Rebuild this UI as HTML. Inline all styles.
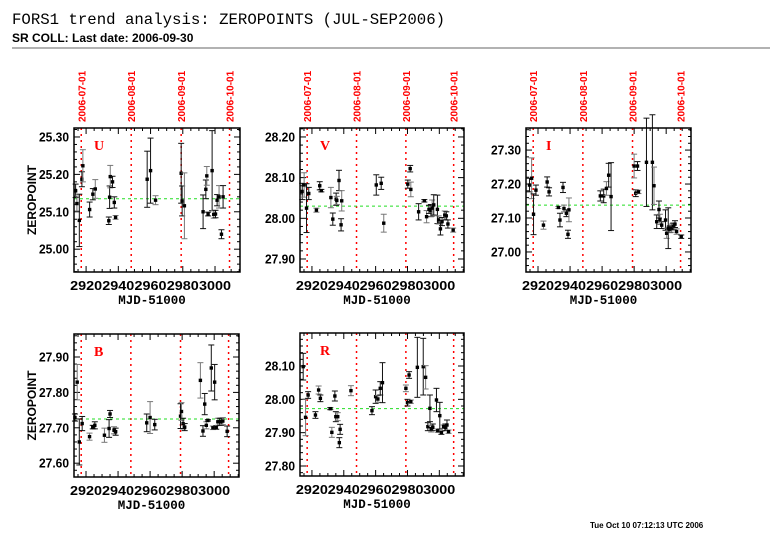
<!DOCTYPE html>
<html><head><meta charset="utf-8">
<style>
html,body{margin:0;padding:0;background:#fff;width:782px;height:542px;overflow:hidden}
svg{display:block;font-family:"Liberation Sans",Arial,sans-serif}
</style></head>
<body>
<svg id="chart" width="782" height="542" viewBox="0 0 782 542" xmlns="http://www.w3.org/2000/svg">
<text x="12" y="24" font-family="Liberation Mono, monospace" font-size="15.7" fill="#000">FORS1 trend analysis: ZEROPOINTS (JUL-SEP2006)</text>
<text x="12" y="42" font-size="12" font-weight="bold" fill="#000">SR COLL: Last date: 2006-09-30</text>
<line x1="12" y1="48" x2="770" y2="48" stroke="#666" stroke-width="1"/>
<text x="590" y="528" font-size="8" font-weight="bold" fill="#000">Tue Oct 10 07:12:13 UTC 2006</text>
<g id="panels"></g>
</svg>
<script>
// ---- data ----
const dateLabels = ["2006-07-01","2006-08-01","2006-09-01","2006-10-01"];
const dateMjd = [2917, 2948, 2979, 3009];
const xTickLabels = [2920, 2940, 2960, 2980, 3000];

const uX = [2913.5,2914.3,2915.8,2917.4,2918.0,2922.2,2924.2,2925.7,2934.1,2934.6,2935.0,2936.4,2937.5,2938.3,2957.9,2960.0,2963.1,2979.0,2979.6,2981.0,2992.6,2994.3,2994.9,2995.7,2998.2,2999.2,3000.3,3001.3,3002.5,3004.0,3005.0];
const uY = [25.156,25.122,25.077,25.187,25.223,25.106,25.147,25.161,25.076,25.139,25.194,25.180,25.125,25.085,25.187,25.210,25.131,25.203,25.129,25.116,25.100,25.160,25.196,25.094,25.210,25.093,25.094,25.131,25.140,25.040,25.140];
const uE = [0.018,0.02,0.07,0.02,0.043,0.02,0.015,0.025,0.01,0.03,0.03,0.015,0.015,0.005,0.075,0.087,0.012,0.08,0.04,0.088,0.045,0.025,0.025,0.005,0.107,0.01,0.01,0.015,0.03,0.012,0.03];

const vX = [2913.9,2915.1,2916.6,2918.0,2922.8,2924.9,2925.9,2931.9,2933.1,2935.2,2935.6,2937.0,2938.3,2938.7,2960.4,2963.5,2965.1,2980.2,2981.7,2982.1,2987.0,2990.6,2992.0,2993.5,2994.7,2995.5,2996.5,2998.8,2999.6,3000.7,3001.7,3003.4,3004.4,3005.4,3008.7];
const vY = [28.066,28.082,28.025,28.061,28.020,28.080,28.068,28.051,27.998,28.047,28.044,28.093,27.984,28.043,28.082,28.086,27.988,28.084,28.122,28.071,28.016,28.043,28.004,28.022,28.019,28.025,28.033,28.022,27.996,27.974,27.992,28.008,28.006,27.986,27.971];
const vE = [0.02,0.03,0.06,0.015,0.005,0.01,0.003,0.025,0.015,0.015,0.01,0.025,0.015,0.025,0.025,0.015,0.022,0.01,0.008,0.018,0.02,0.003,0.015,0.01,0.015,0.02,0.025,0.035,0.01,0.015,0.01,0.01,0.01,0.01,0.005];

const iX = [2914.7,2916.0,2917.2,2918.7,2923.4,2925.7,2926.9,2932.7,2933.7,2935.6,2936.2,2937.7,2938.7,2939.3,2958.9,2961.0,2962.7,2964.1,2965.6,2980.0,2981.0,2982.1,2982.7,2987.7,2991.4,2992.4,2994.1,2995.5,2996.1,2997.2,2999.6,3000.3,3001.3,3002.3,3003.4,3004.4,3005.5,3006.5,3009.4];
const iY = [27.197,27.217,27.111,27.182,27.079,27.206,27.177,27.131,27.094,27.190,27.128,27.114,27.052,27.124,27.165,27.165,27.187,27.226,27.163,27.253,27.173,27.253,27.177,27.264,27.264,27.195,27.089,27.125,27.096,27.079,27.094,27.055,27.070,27.067,27.070,27.075,27.082,27.060,27.045];
const iE = [0.02,0.06,0.06,0.015,0.012,0.015,0.012,0.003,0.02,0.015,0.01,0.01,0.012,0.035,0.015,0.02,0.02,0.035,0.1,0.035,0.01,0.013,0.005,0.13,0.14,0.055,0.02,0.025,0.015,0.01,0.03,0.015,0.06,0.01,0.012,0.01,0.01,0.008,0.005];

const bX = [2913.1,2914.5,2915.8,2917.6,2922.2,2924.2,2925.5,2931.5,2934.4,2935.0,2937.5,2938.5,2957.9,2960.0,2962.9,2979.0,2979.6,2980.6,2981.6,2991.4,2993.0,2994.1,2995.1,2996.1,2998.2,2999.2,3000.3,3001.3,3002.3,3003.4,3004.4,3005.4,3008.1];
const bY = [27.729,27.829,27.660,27.712,27.675,27.702,27.707,27.679,27.698,27.739,27.693,27.689,27.714,27.729,27.709,27.733,27.746,27.712,27.702,27.834,27.691,27.767,27.707,27.721,27.869,27.700,27.829,27.701,27.717,27.717,27.717,27.719,27.690];
const bE = [0.01,0.05,0.065,0.02,0.01,0.005,0.01,0.02,0.025,0.01,0.01,0.01,0.025,0.045,0.015,0.035,0.025,0.015,0.01,0.05,0.015,0.03,0.01,0.002,0.065,0.005,0.05,0.005,0.01,0.01,0.01,0.01,0.015];

const rX = [2914.5,2916.0,2917.6,2922.2,2924.2,2925.3,2931.5,2932.5,2934.4,2935.0,2936.2,2937.7,2937.2,2944.5,2957.7,2960.0,2961.4,2962.9,2964.3,2979.0,2980.0,2981.0,2982.1,2986.2,2989.9,2991.4,2992.8,2994.1,2994.9,2995.9,2998.2,2999.0,3000.3,3001.3,3002.7,3003.8,3004.8,3005.8];
const rY = [28.098,27.946,28.013,27.953,28.028,28.003,27.972,27.901,28.010,27.948,27.948,27.910,27.870,28.026,27.966,28.008,28.001,28.033,28.050,28.033,27.990,28.073,27.993,28.096,28.098,28.066,27.918,27.973,27.912,27.916,27.998,27.906,27.951,27.900,27.918,27.916,27.923,27.903];
const rE = [0.04,0.055,0.01,0.01,0.012,0.01,0.003,0.015,0.015,0.015,0.012,0.015,0.015,0.015,0.012,0.02,0.01,0.02,0.06,0.01,0.01,0.01,0.005,0.09,0.085,0.035,0.012,0.04,0.01,0.01,0.035,0.005,0.04,0.005,0.005,0.01,0.015,0.005];

const bandNames = ["U","V","I","B","R"];
const bandMeans = [25.135, 28.03, 27.138, 27.725, 27.972];
const yTickU = [25.00,25.10,25.20,25.30];
const yTickV = [27.90,28.00,28.10,28.20];
const yTickI = [27.00,27.10,27.20,27.30];
const yTickB = [27.60,27.70,27.80,27.90];
const yTickR = [27.80,27.90,28.00,28.10];

// ---- layout (not data) ----
const panels = [
 {name:"u", xs:uX, ys:uY, es:uE, ticks:yTickU, left:74, top:128, w:166, h:144, ymin:24.939, ymax:25.324, dates:true},
 {name:"v", xs:vX, ys:vY, es:vE, ticks:yTickV, left:300, top:128, w:164, h:144, ymin:27.868, ymax:28.222, dates:true},
 {name:"i", xs:iX, ys:iY, es:iE, ticks:yTickI, left:526, top:128, w:165, h:144, ymin:26.941, ymax:27.365, dates:true},
 {name:"b", xs:bX, ys:bY, es:bE, ticks:yTickB, left:74, top:334, w:165, h:143, ymin:27.561, ymax:27.965, dates:false},
 {name:"r", xs:rX, ys:rY, es:rE, ticks:yTickR, left:300, top:333, w:164, h:143, ymin:27.770, ymax:28.199, dates:false}
];
const XMIN = 2912.5, XMAX = 3015.5;
const NS = "http://www.w3.org/2000/svg";
const root = document.getElementById("panels");
function mk(tag, attrs, parent){
  const e = document.createElementNS(NS, tag);
  for (const k in attrs) e.setAttribute(k, attrs[k]);
  (parent||root).appendChild(e); return e;
}
panels.forEach((p, pi) => {
  const g = mk("g", {});
  
  
  const sx = v => p.left + (v - XMIN) / (XMAX - XMIN) * p.w;
  const sy = v => p.top + (p.ymax - v) / (p.ymax - p.ymin) * p.h;
  const R = p.left + p.w, B = p.top + p.h;
  for (let d = 2915; d <= XMAX; d += 5) {
    const x = sx(d), L = (d % 20 === 0) ? 6 : 3;
    mk("line",{x1:x,y1:B,x2:x,y2:B-L,stroke:"#000","stroke-width":1},g);
    mk("line",{x1:x,y1:p.top,x2:x,y2:p.top+L,stroke:"#000","stroke-width":1},g);
  }
  const ys = Math.ceil(p.ymin*50)/50;
  for (let v = ys; v <= p.ymax; v += 0.02) {
    const y = sy(v), maj = Math.abs(v*10 - Math.round(v*10)) < 0.01, L = maj?6:3;
    mk("line",{x1:p.left,y1:y,x2:p.left+L,y2:y,stroke:"#000","stroke-width":1},g);
    mk("line",{x1:R,y1:y,x2:R-L,y2:y,stroke:"#000","stroke-width":1},g);
  }
  dateMjd.forEach((d, di) => {
    const x = sx(d);
    const ln = mk("line",{x1:x,y1:p.top,x2:x,y2:B,stroke:"#f00","stroke-width":1.5,"stroke-dasharray":"2,4"},g);
    
    
    if (p.dates) {
      const t = mk("text",{x:x+4,y:p.top-6,transform:`rotate(-90 ${x+4} ${p.top-6})`,"font-size":10,"font-weight":"bold",fill:"#f00"},g);
      t.textContent = dateLabels[di];
      
      
    }
  });
  const ml = mk("line",{x1:p.left,y1:sy(bandMeans[pi]),x2:R,y2:sy(bandMeans[pi]),stroke:"#2d2","stroke-width":1,"stroke-dasharray":"3,3"},g);
  
  
  p.xs.forEach((xv, k) => {
    const x = sx(xv), y = sy(p.ys[k]), y1 = sy(p.ys[k]+p.es[k]), y2 = sy(p.ys[k]-p.es[k]);
    const col = (k % 3 === 1) ? "#777" : "#111";
    const eg = mk("g",{},g);
    
    
    mk("line",{x1:x,y1:y1,x2:x,y2:y2,stroke:col,"stroke-width":1},eg);
    mk("line",{x1:x-3,y1:y1,x2:x+3,y2:y1,stroke:col,"stroke-width":1},eg);
    mk("line",{x1:x-3,y1:y2,x2:x+3,y2:y2,stroke:col,"stroke-width":1},eg);
    mk("rect",{x:x-1.7,y:y-1.7,width:3.4,height:3.4,fill:"#000"},eg);
  });
  const fr = mk("rect",{x:p.left,y:p.top,width:p.w,height:p.h,fill:"none",stroke:"#000","stroke-width":1.5},g);
  
  
  const bl = mk("text",{x:p.left+20,y:p.top+22,"font-size":14,"font-weight":"bold",fill:"#f00","font-family":"Liberation Serif, serif"},g);
  bl.textContent = bandNames[pi];
  
  
  p.ticks.forEach(v => {
    const t = mk("text",{x:p.left-5,y:sy(v)+4.5,"font-size":12.5,"font-weight":"bold","text-anchor":"end",fill:"#000",textLength:30,lengthAdjust:"spacingAndGlyphs"},g);
    t.textContent = v.toFixed(2);
    
    
  });
  xTickLabels.forEach(v => {
    const t = mk("text",{x:sx(v)-16,y:B+18,"font-size":13,"font-weight":"bold",fill:"#000",textLength:32,lengthAdjust:"spacingAndGlyphs"},g);
    t.textContent = v;
    
    
  });
  const xt = mk("text",{x:p.left+p.w/2-5,y:B+32,"font-size":12.5,"font-weight":"bold","text-anchor":"middle",fill:"#000","font-family":"Liberation Mono, monospace"},g);
  xt.textContent = "MJD-51000";
  
  
  if (p.left < 100) {
    const cy = p.top + p.h/2, cx = 36;
    const yt = mk("text",{x:cx,y:cy,transform:`rotate(-90 ${cx} ${cy})`,"font-size":12,"font-weight":"bold","text-anchor":"middle",fill:"#000"},g);
    yt.textContent = "ZEROPOINT";
    
    
  }
});
</script>
</body></html>
